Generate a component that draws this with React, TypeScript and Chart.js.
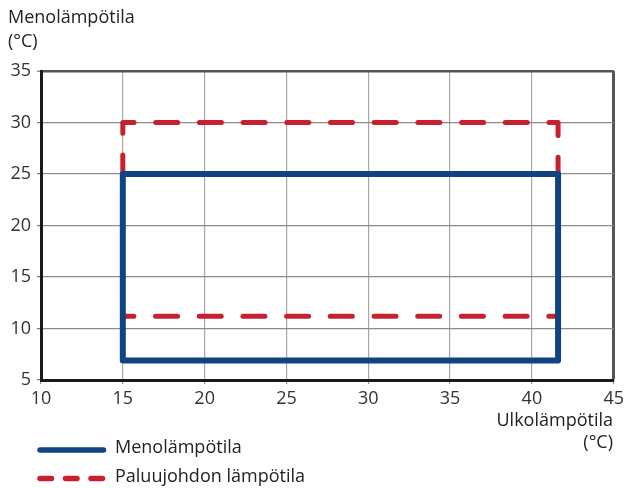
import React, { useEffect, useRef } from "react";
import { Chart, registerables } from "chart.js";

Chart.register(...registerables);

// ---- data ----
const xMin = 10;
const xMax = 45;
const yMin = 5;
const yMax = 35;
const tickStep = 5;

const supplyLabel = "Menolämpötila";
const returnLabel = "Paluujohdon lämpötila";
const yTitle = ["Menolämpötila", "(°C)"];
const xTitle = ["Ulkolämpötila", "(°C)"];

// supply (Menolämpötila) envelope, closed rectangle
const supplyX = [15, 41.6, 41.6, 15, 15];
const supplyY = [25, 25, 6.9, 6.9, 25];

// return (Paluujohdon lämpötila) envelope, upper part and lower line
const returnTopX = [15, 15, 41.6, 41.6];
const returnTopY = [25, 30, 30, 25];
const returnBottomX = [15, 41.6];
const returnBottomY = [11.2, 11.2];

const BLUE = "#0f4382";
const RED = "#c8202c";
const FONT = "'Open Sans', sans-serif";

function pts(xs: number[], ys: number[]) {
  return xs.map((x, i) => ({ x, y: ys[i] }));
}

export default function App() {
  const ref = useRef<HTMLCanvasElement | null>(null);

  useEffect(() => {
    if (!ref.current) return;
    const chart = new Chart(ref.current, {
      type: "scatter",
      data: {
        datasets: [
          {
            label: supplyLabel,
            data: pts(supplyX, supplyY),
            showLine: true,
            borderColor: BLUE,
            backgroundColor: BLUE,
            borderWidth: 6,
            pointRadius: 0,
            borderCapStyle: "round",
            borderJoinStyle: "round",
            tension: 0,
          },
          {
            label: returnLabel,
            data: pts(returnTopX, returnTopY),
            showLine: true,
            borderColor: RED,
            backgroundColor: RED,
            borderWidth: 5,
            pointRadius: 0,
            borderDash: [22, 21.7],
            borderDashOffset: 3,
            borderCapStyle: "round",
            borderJoinStyle: "round",
            tension: 0,
          },
          {
            label: returnLabel,
            data: pts(returnBottomX, returnBottomY),
            showLine: true,
            borderColor: RED,
            backgroundColor: RED,
            borderWidth: 5,
            pointRadius: 0,
            borderDash: [22, 21.7],
            borderDashOffset: 11,
            borderCapStyle: "round",
            borderJoinStyle: "round",
            tension: 0,
          },
        ],
      },
      options: {
        responsive: false,
        animation: false,
        devicePixelRatio: 1,
        layout: { padding: { left: 0, top: 71, right: 13, bottom: 0 } },
        plugins: {
          legend: { display: false },
          tooltip: { enabled: false },
          title: { display: false },
        },
        scales: {
          x: {
            type: "linear",
            min: xMin,
            max: xMax,
            ticks: {
              stepSize: tickStep,
              color: "#333",
              font: { family: FONT, size: 18 },
              padding: 4,
              maxRotation: 0,
            },
            grid: {
              color: (c: any) =>
                c.tick && c.tick.value === xMax ? "#555" : "#a8a8a8",
              lineWidth: (c: any) => (c.tick && c.tick.value === xMax ? 3 : 1.2),
              tickLength: 4,
              tickColor: "#999",
              tickWidth: 1.2,
            },
            border: { display: true, color: "#1a1a1a", width: 3 },
            afterFit: (s: any) => {
              s.height = 108;
            },
          },
          y: {
            type: "linear",
            min: yMin,
            max: yMax,
            ticks: {
              stepSize: tickStep,
              color: "#333",
              font: { family: FONT, size: 18 },
              padding: 6,
            },
            grid: {
              color: (c: any) =>
                c.tick && c.tick.value === yMax ? "#555" : "#8c8c8c",
              lineWidth: (c: any) => (c.tick && c.tick.value === yMax ? 2.5 : 1.2),
              tickLength: 4,
              tickColor: "#777",
              tickWidth: 1.2,
            },
            border: { display: true, color: "#1a1a1a", width: 3 },
            afterFit: (s: any) => {
              s.width = 41;
            },
          },
        },
      },
    });
    return () => chart.destroy();
  }, []);

  const textStyle: React.CSSProperties = {
    position: "absolute",
    fontFamily: FONT,
    fontSize: 18,
    color: "#222",
    whiteSpace: "nowrap",
  };

  return (
    <div
      style={{
        position: "absolute",
        left: 0,
        top: 0,
        width: 628,
        height: 488,
        background: "#fff",
        overflow: "hidden",
      }}
    >
      <canvas ref={ref} width={628} height={488} style={{ display: "block" }} />
      <div style={{ ...textStyle, left: 8, top: 4.3, lineHeight: "24px" }}>
        <div>{yTitle[0]}</div>
        <div>{yTitle[1]}</div>
      </div>
      <div
        style={{
          ...textStyle,
          right: 15,
          top: 407.7,
          lineHeight: "22px",
          textAlign: "right",
        }}
      >
        <div>{xTitle[0]}</div>
        <div>{xTitle[1]}</div>
      </div>
      <svg
        width={628}
        height={488}
        style={{ position: "absolute", left: 0, top: 0, pointerEvents: "none" }}
      >
        <line
          x1={40}
          y1={450}
          x2={103.5}
          y2={450}
          stroke={BLUE}
          strokeWidth={5.5}
          strokeLinecap="round"
        />
        <line
          x1={40}
          y1={478.5}
          x2={103.5}
          y2={478.5}
          stroke={RED}
          strokeWidth={5.5}
          strokeLinecap="round"
          strokeDasharray="11.5 14"
        />
      </svg>
      <div style={{ ...textStyle, left: 115, top: 435.3, lineHeight: "22px" }}>
        {supplyLabel}
      </div>
      <div style={{ ...textStyle, left: 115, top: 463.7, lineHeight: "22px" }}>
        {returnLabel}
      </div>
    </div>
  );
}
